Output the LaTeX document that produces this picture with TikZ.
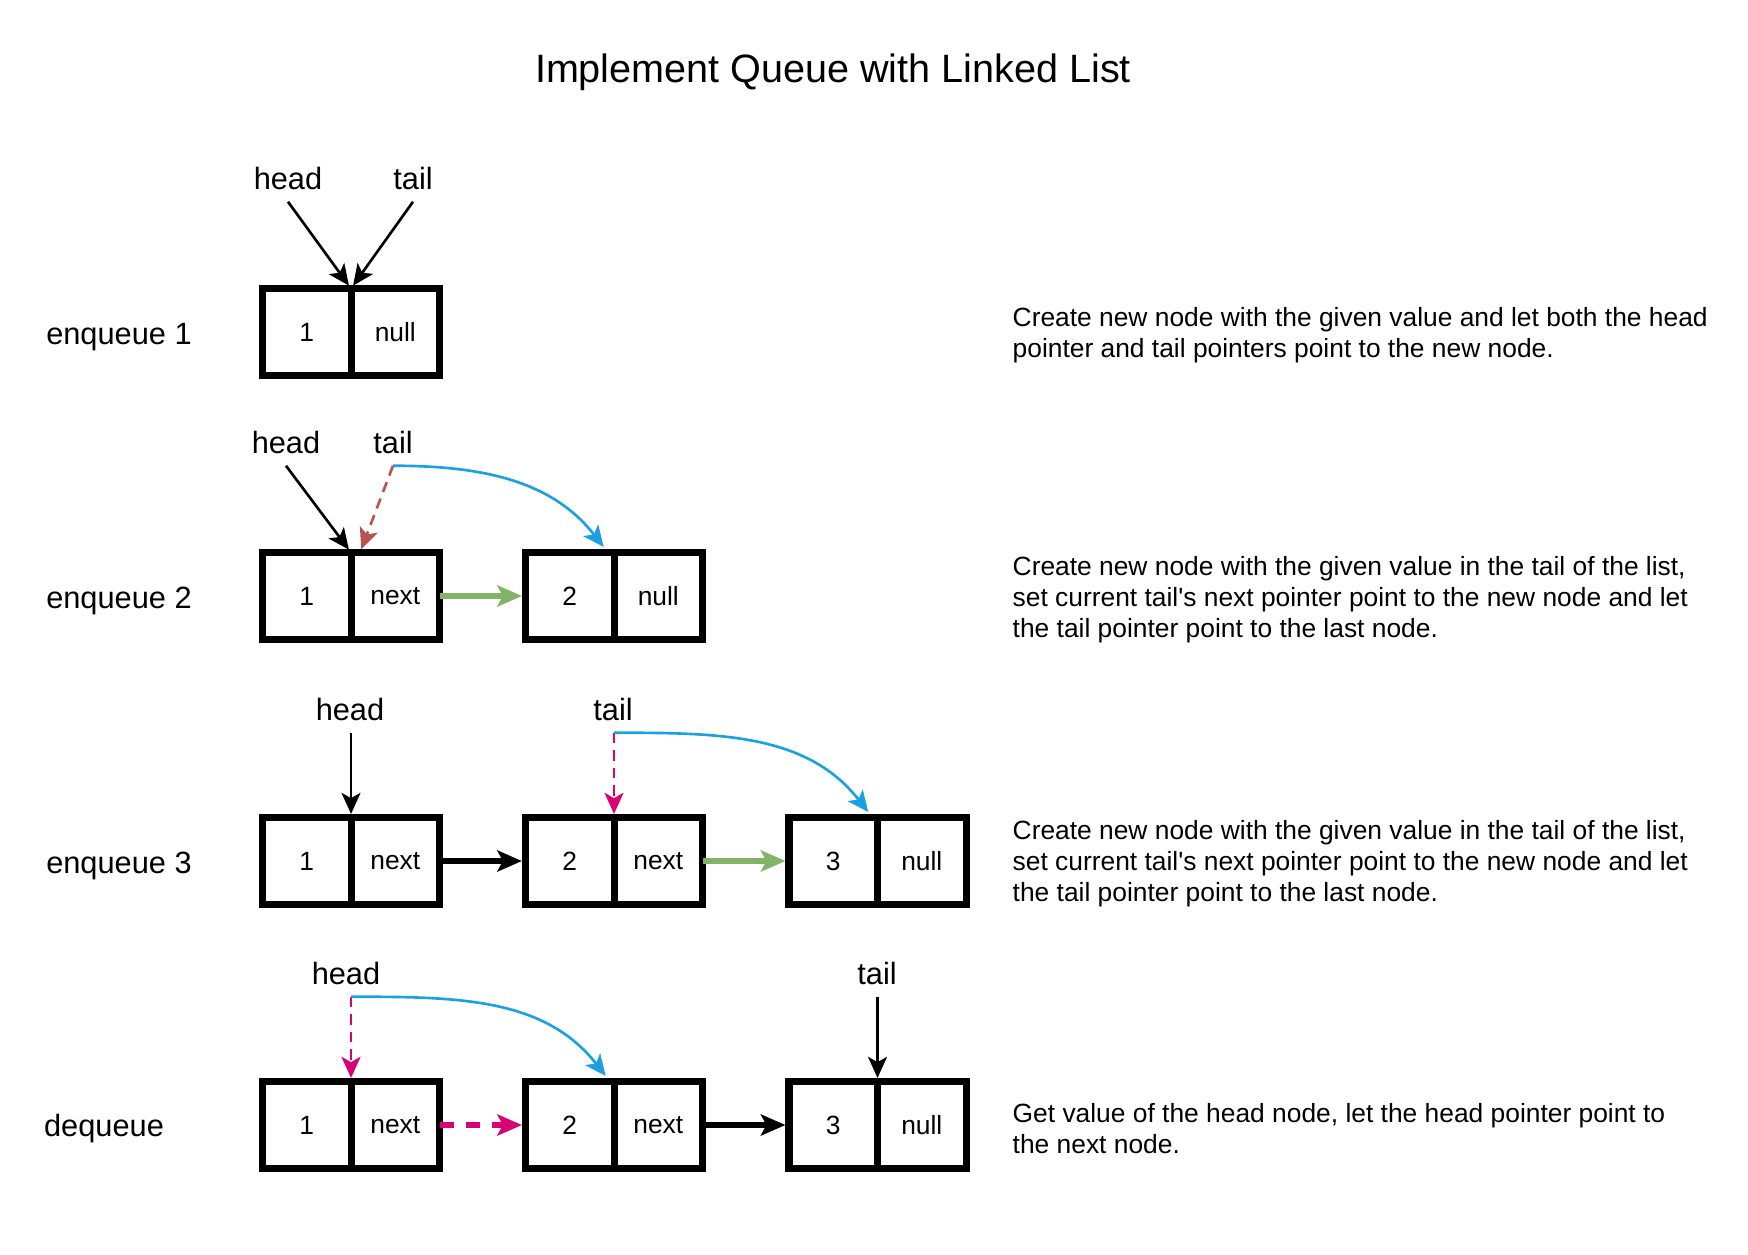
\documentclass[tikz,border=0pt]{standalone}
\usepackage{fontspec}
\setmainfont{Liberation Sans}
\usetikzlibrary{positioning,arrows.meta,calc}
\definecolor{qBlue}{RGB}{27,161,226}
\definecolor{qGreen}{RGB}{130,179,102}
\definecolor{qRed}{RGB}{184,84,80}
\definecolor{qPink}{RGB}{216,0,115}
\tikzset{
  cell/.style={draw, line width=2pt, minimum width=0.885cm, minimum height=0.87cm,
    inner sep=0pt, outer sep=0pt, font=\fontsize{7.5}{9}\selectfont},
  ptr/.style={font=\fontsize{8.75}{10.5}\selectfont},
  rowlbl/.style={font=\fontsize{8.75}{10.5}\selectfont},
  desc/.style={anchor=west, align=left, inner sep=0pt, font=\fontsize{7.5}{8.8}\selectfont},
  link/.style={-{Stealth[length=6pt,width=5.4pt,inset=1.5pt]}, line width=0.75pt, shorten >=1pt},
  fatlink/.style={-{Stealth[length=7pt,width=6pt,inset=1.6pt]}, line width=1.5pt, shorten >=1pt},
  thindash/.style={dash pattern=on 3pt off 2pt},
  fatdash/.style={dash pattern=on 4pt off 3.5pt}
}

\begin{document}
\begin{tikzpicture}[x=0.01cm, y=-0.01cm]
  \useasboundingbox (0,0) rectangle (1748,1254);
  \node (title) at (833,72) {\fontsize{11.25}{13.5}\selectfont Implement Queue with Linked List};

  % enqueue 1
  \node[rowlbl] (lbl1) at (119,337) {enqueue 1};
  \node[cell] (v11) at (306.75,332) {1};
  \node[cell, right=0pt of v11] (p11) {null};
  \node[ptr] (h1) at (288,178) {head};
  \node[ptr] (t1) at (413,178) {tail};
  \draw[link] (h1.south) -- (v11.north east);
  \draw[link] (t1.south) -- (p11.north west);
  \node[desc] (d1) at (1012,335) {Create new node with the given value and let both the head\\
    pointer and tail pointers point to the new node.};

  % enqueue 2
  \node[rowlbl] (lbl2) at (119,601) {enqueue 2};
  \node[cell] (v21) at (306.75,596) {1};
  \node[cell, right=0pt of v21] (p21) {next};
  \node[cell] (v22) at (569.75,596) {2};
  \node[cell, right=0pt of v22] (p22) {null};
  \node[ptr] (h2) at (286,442) {head};
  \node[ptr] (t2) at (393,442) {tail};
  \draw[link] (h2.south) -- (v21.north east);
  \draw[link, qRed, thindash] (t2.south) -- ($(p21.north west)+(9,0)$);
  \draw[link, qBlue, shorten >=2pt] (t2.south) to[out=0, in=128] ($(v22.north east)+(-6,0)$);
  \draw[fatlink, qGreen] (p21.east) -- (v22.west);
  \node[desc] (d2) at (1012,600) {Create new node with the given value in the tail of the list,\\
    set current tail\textquotesingle s next pointer point to the new node and let\\
    the tail pointer point to the last node.};

  % enqueue 3
  \node[rowlbl] (lbl3) at (119,866) {enqueue 3};
  \node[cell] (v31) at (306.75,861) {1};
  \node[cell, right=0pt of v31] (p31) {next};
  \node[cell] (v32) at (569.75,861) {2};
  \node[cell, right=0pt of v32] (p32) {next};
  \node[cell] (v33) at (833.25,861) {3};
  \node[cell, right=0pt of v33] (p33) {null};
  \node[ptr] (h3) at (350,709) {head};
  \node[ptr] (t3) at (613,709) {tail};
  \draw[link] (h3.south -| v31.north east) -- (v31.north east);
  \draw[link, qPink, thindash] (t3.south -| v32.north east) -- (v32.north east);
  \draw[link, qBlue, shorten >=2pt] (t3.south -| v32.north east) to[out=0, in=128] ($(v33.north east)+(-5,0)$);
  \draw[fatlink] (p31.east) -- (v32.west);
  \draw[fatlink, qGreen] (p32.east) -- (v33.west);
  \node[desc] (d3) at (1012,864) {Create new node with the given value in the tail of the list,\\
    set current tail\textquotesingle s next pointer point to the new node and let\\
    the tail pointer point to the last node.};

  % dequeue
  \node[rowlbl] (lbl4) at (104,1129) {dequeue};
  \node[cell] (v41) at (306.75,1125) {1};
  \node[cell, right=0pt of v41] (p41) {next};
  \node[cell] (v42) at (569.75,1125) {2};
  \node[cell, right=0pt of v42] (p42) {next};
  \node[cell] (v43) at (833.25,1125) {3};
  \node[cell, right=0pt of v43] (p43) {null};
  \node[ptr] (h4) at (346,973) {head};
  \node[ptr] (t4) at (877,973) {tail};
  \draw[link, qPink, thindash] (h4.south -| v41.north east) -- (v41.north east);
  \draw[link, qBlue, shorten >=2pt] (h4.south -| v41.north east) to[out=0, in=128] ($(v42.north east)+(-4,0)$);
  \draw[link] (t4.south -| v43.north east) -- (v43.north east);
  \draw[fatlink, qPink, fatdash] (p41.east) -- (v42.west);
  \draw[fatlink] (p42.east) -- (v43.west);
  \node[desc] (d4) at (1012,1129) {Get value of the head node, let the head pointer point to\\
    the next node.};
\end{tikzpicture}
\end{document}
